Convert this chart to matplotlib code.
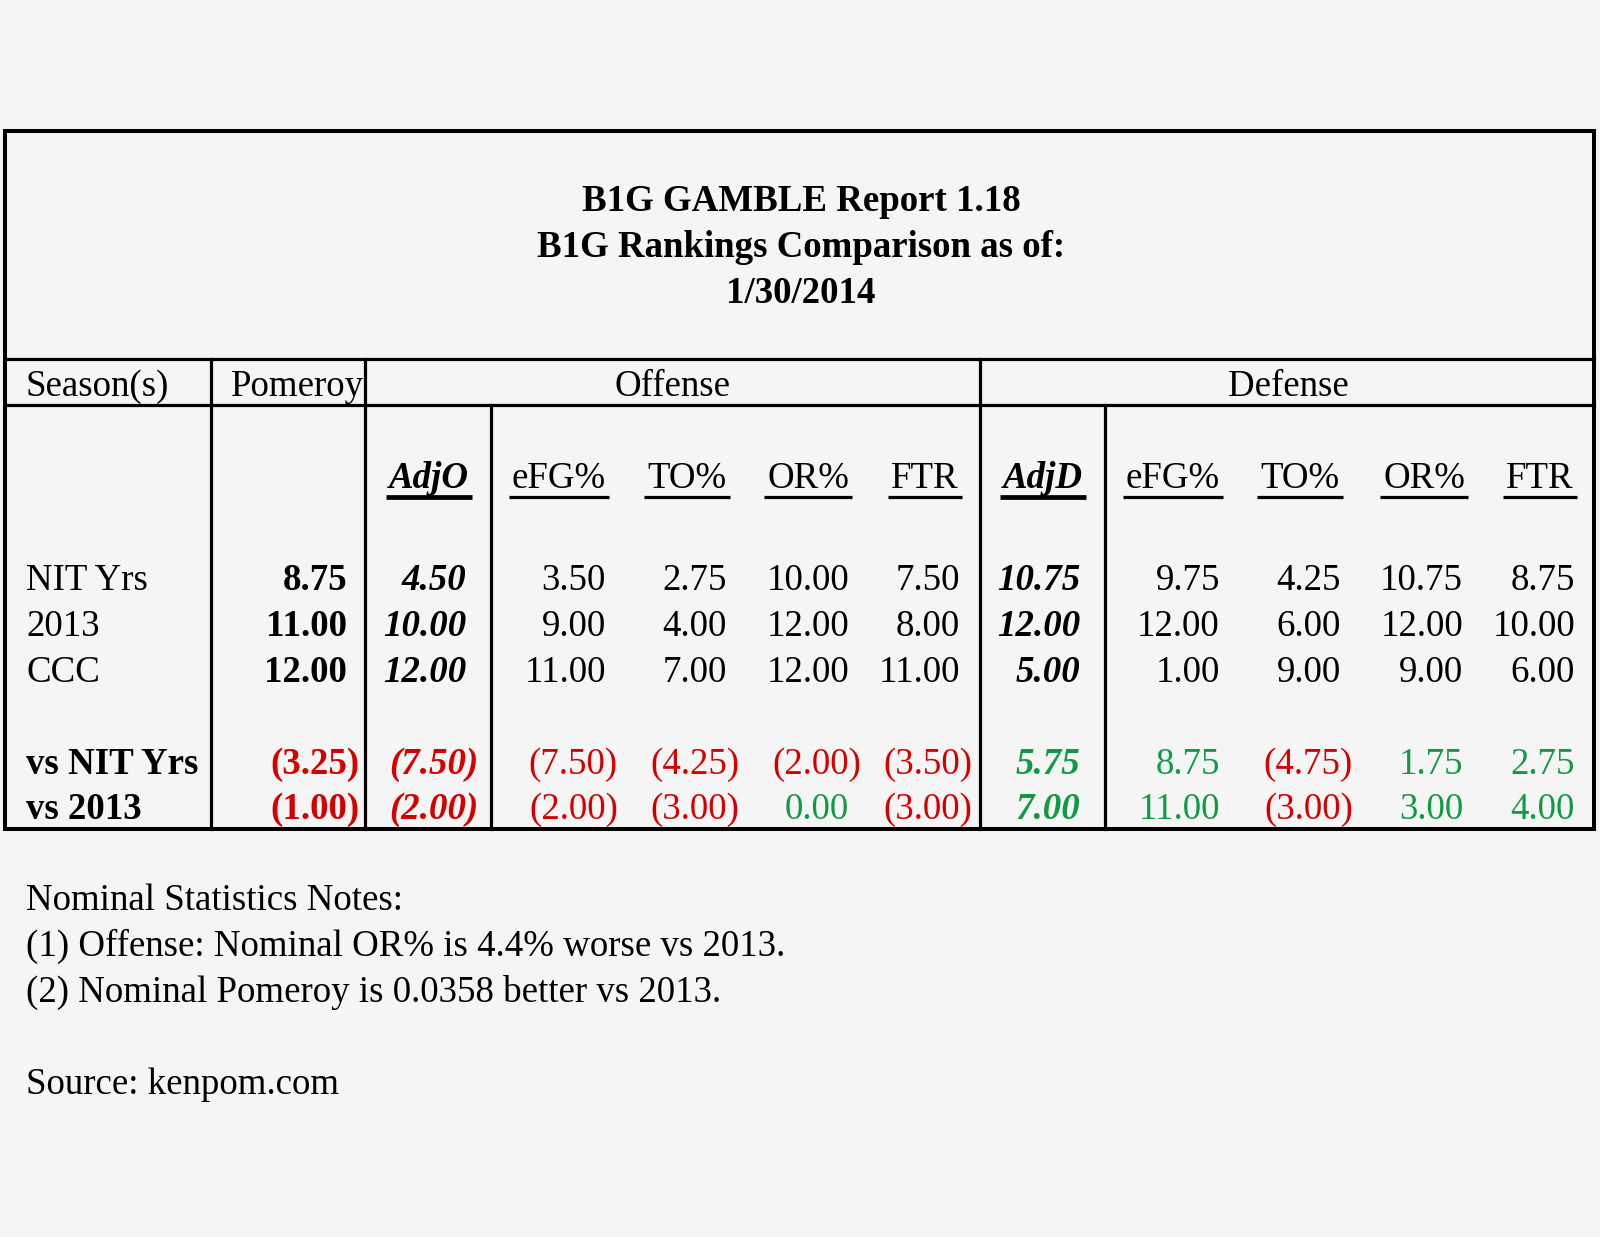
import matplotlib
matplotlib.use('Agg')
import matplotlib.pyplot as plt

# ---- data ----
title_lines = ['B1G GAMBLE Report 1.18', 'B1G Rankings Comparison as of:', '1/30/2014']
stat_names = ['eFG%', 'TO%', 'OR%', 'FTR']

seasons = ['NIT Yrs', '2013', 'CCC']
pomeroy = [8.75, 11.00, 12.00]
adj_o = [4.50, 10.00, 12.00]
off_stats = [[3.50, 2.75, 10.00, 7.50],
             [9.00, 4.00, 12.00, 8.00],
             [11.00, 7.00, 12.00, 11.00]]
adj_d = [10.75, 12.00, 5.00]
def_stats = [[9.75, 4.25, 10.75, 8.75],
             [12.00, 6.00, 12.00, 10.00],
             [1.00, 9.00, 9.00, 6.00]]

diff_labels = ['vs NIT Yrs', 'vs 2013']
diff_pomeroy = [-3.25, -1.00]
diff_adj_o = [-7.50, -2.00]
diff_off = [[-7.50, -4.25, -2.00, -3.50],
            [-2.00, -3.00, 0.00, -3.00]]
diff_adj_d = [5.75, 7.00]
diff_def = [[8.75, -4.75, 1.75, 2.75],
            [11.00, -3.00, 3.00, 4.00]]

notes = ['Nominal Statistics Notes:',
         '(1) Offense: Nominal OR% is 4.4% worse vs 2013.',
         '(2) Nominal Pomeroy is 0.0358 better vs 2013.',
         '',
         'Source: kenpom.com']

RED = '#d40000'
GREEN = '#0f9a45'
FONT = 'Liberation Serif'
FS = 26.6
LW = 2.3

plt.rcParams['font.family'] = FONT

fig = plt.figure(figsize=(16, 12.37), dpi=100, facecolor='#f5f5f5')
ax = fig.add_axes([0, 0, 1, 1])
ax.set_xlim(0, 1600)
ax.set_ylim(1237, 0)
ax.axis('off')


def fmt(v):
    return f'({abs(v):.2f})' if v < 0 else f'{v:.2f}'


def put_num(x_right, y, v, color='black', weight='normal', style='normal'):
    # accounting style: positive numbers leave room for the closing paren
    s = fmt(v)
    xr = x_right + 12 if v < 0 else x_right
    ax.text(xr, y, s, ha='right', va='baseline', fontsize=FS, color=color,
            fontweight=weight, fontstyle=style)


# ---- grid lines ----
box_l, box_r, box_t, box_b = 5, 1594, 131, 829
ax.plot([box_l, box_r, box_r, box_l, box_l], [box_t, box_t, box_b, box_b, box_t],
        color='black', lw=LW + 0.6, solid_joinstyle='miter')
ax.plot([box_l, box_r], [359, 359], color='black', lw=LW)
ax.plot([box_l, box_r], [405, 405], color='black', lw=LW)
for x in [211, 365, 980]:
    ax.plot([x, x], [359, box_b], color='black', lw=LW)
for x in [491, 1105]:
    ax.plot([x, x], [405, box_b], color='black', lw=LW)

# ---- title ----
for i, line in enumerate(title_lines):
    ax.text(801, 211 + 46 * i, line, ha='center', va='baseline', fontsize=FS,
            fontweight='bold')

# ---- group header row ----
ax.text(26, 396, 'Season(s)', ha='left', va='baseline', fontsize=FS)
ax.text(231, 396, 'Pomeroy', ha='left', va='baseline', fontsize=FS)
ax.text(673, 396, 'Offense', ha='center', va='baseline', fontsize=FS)
ax.text(1288, 396, 'Defense', ha='center', va='baseline', fontsize=FS)

# ---- column headers (underlined) ----
hdr_y = 488
hdr_specs = [('AdjO', 429, True)] + [(n, c, False) for n, c in zip(stat_names, [559, 687, 808, 925])] \
    + [('AdjD', 1043, True)] + [(n, c, False) for n, c in zip(stat_names, [1173, 1300, 1424, 1540])]
hdr_texts = []
for name, cx, strong in hdr_specs:
    t = ax.text(cx, hdr_y, name, ha='center', va='baseline', fontsize=FS,
                fontweight='bold' if strong else 'normal',
                fontstyle='italic' if strong else 'normal')
    hdr_texts.append((t, strong))

fig.canvas.draw()
inv = ax.transData.inverted()
for t, strong in hdr_texts:
    bb = t.get_window_extent()
    x0, _ = inv.transform((bb.x0, bb.y0))
    x1, _ = inv.transform((bb.x1, bb.y0))
    ax.plot([x0 - 3, x1 + 3], [hdr_y + 9, hdr_y + 9], color='black',
            lw=3.4 if strong else 2.3, solid_capstyle='butt')

# ---- value columns (right edges) ----
pom_x = 347
adjo_x = 466
off_x = [606, 727, 849, 960]
adjd_x = 1080
def_x = [1220, 1341, 1463, 1575]

row_y = [590, 636, 682]
for i, season in enumerate(seasons):
    y = row_y[i]
    ax.text(26, y, season, ha='left', va='baseline', fontsize=FS)
    put_num(pom_x, y, pomeroy[i], weight='bold')
    put_num(adjo_x, y, adj_o[i], weight='bold', style='italic')
    for x, v in zip(off_x, off_stats[i]):
        put_num(x, y, v)
    put_num(adjd_x, y, adj_d[i], weight='bold', style='italic')
    for x, v in zip(def_x, def_stats[i]):
        put_num(x, y, v)

diff_y = [774, 819]


def col(v):
    return RED if v < 0 else GREEN


for i, lab in enumerate(diff_labels):
    y = diff_y[i]
    ax.text(26, y, lab, ha='left', va='baseline', fontsize=FS, fontweight='bold')
    put_num(pom_x, y, diff_pomeroy[i], color=col(diff_pomeroy[i]), weight='bold')
    put_num(adjo_x, y, diff_adj_o[i], color=col(diff_adj_o[i]), weight='bold', style='italic')
    for x, v in zip(off_x, diff_off[i]):
        put_num(x, y, v, color=col(v))
    put_num(adjd_x, y, diff_adj_d[i], color=col(diff_adj_d[i]), weight='bold', style='italic')
    for x, v in zip(def_x, diff_def[i]):
        put_num(x, y, v, color=col(v))

# ---- notes ----
for i, line in enumerate(notes):
    if line:
        ax.text(26, 910 + 46 * i, line, ha='left', va='baseline', fontsize=FS)

fig.savefig('out.png', dpi=100, facecolor=fig.get_facecolor())
